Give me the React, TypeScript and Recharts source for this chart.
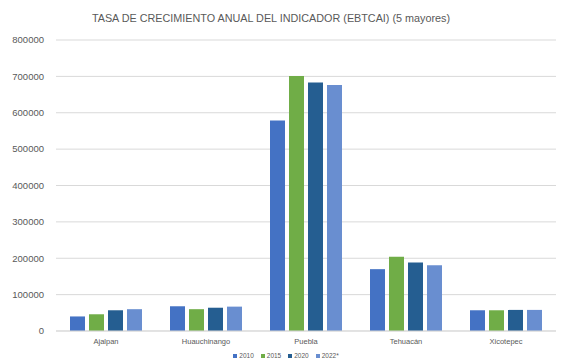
import React from "react";
import {
  Bar,
  BarChart,
  CartesianGrid,
  Legend,
  XAxis,
  YAxis,
} from "recharts";

const municipios = ["Ajalpan", "Huauchinango", "Puebla", "Tehuacán", "Xicotepec"];
const v2010 = [40000, 68000, 579000, 170000, 57000];
const v2015 = [46000, 60000, 701000, 204000, 57000];
const v2020 = [57000, 64000, 683000, 188000, 58000];
const v2022 = [60000, 67000, 676000, 181000, 58000];
const yTicks = [0, 100000, 200000, 300000, 400000, 500000, 600000, 700000, 800000];

const series = [
  { key: "y2010", name: "2010", color: "#4472C4" },
  { key: "y2015", name: "2015", color: "#70AD47" },
  { key: "y2020", name: "2020", color: "#255E91" },
  { key: "y2022", name: "2022*", color: "#698ED0" },
];

const data = municipios.map((m, i) => ({
  municipio: m,
  y2010: v2010[i],
  y2015: v2015[i],
  y2020: v2020[i],
  y2022: v2022[i],
}));

const FONT = "'Liberation Sans', 'DejaVu Sans', sans-serif";
const TEXT = "#595959";

// small legend row under the axis, offset to sit under the chart centre
function LegendRow() {
  return (
    <div
      style={{
        display: "flex",
        justifyContent: "center",
        gap: 7,
        fontSize: 6.5,
        color: TEXT,
        fontFamily: FONT,
        paddingLeft: 16,
        paddingTop: 7,
      }}
    >
      {series.map((s) => (
        <span key={s.key} style={{ display: "flex", alignItems: "center", gap: 2 }}>
          <span style={{ width: 4, height: 4, background: s.color, display: "inline-block" }} />
          {s.name}
        </span>
      ))}
    </div>
  );
}

export default function App() {
  return (
    <div style={{ position: "absolute", left: 0, top: 0, width: 572, height: 364, background: "#fff" }}>
      <BarChart
        width={572}
        height={364}
        data={data}
        margin={{ top: 40, right: 16, left: 0, bottom: 0 }}
        barGap={4}
        barCategoryGap={14}
      >
        <text x={271} y={22} textAnchor="middle" fill={TEXT} fontSize={10.8} fontFamily={FONT}>
          TASA DE CRECIMIENTO ANUAL DEL INDICADOR (EBTCAI) (5 mayores)
        </text>
        <CartesianGrid vertical={false} stroke="#d9d9d9" />
        <XAxis
          dataKey="municipio"
          height={14}
          tickLine={false}
          axisLine={{ stroke: "#d9d9d9" }}
          tick={{ fill: TEXT, fontSize: 7.5, fontFamily: FONT }}
          tickMargin={2}
        />
        <YAxis
          width={56}
          domain={[0, 800000]}
          ticks={yTicks}
          interval={0}
          axisLine={false}
          tickLine={false}
          tick={{ fill: TEXT, fontSize: 9.5, fontFamily: FONT }}
          tickMargin={6}
        />
        <Legend verticalAlign="bottom" height={19} content={<LegendRow />} />
        {series.map((s) => (
          <Bar key={s.key} dataKey={s.key} name={s.name} fill={s.color} isAnimationActive={false} />
        ))}
      </BarChart>
    </div>
  );
}
